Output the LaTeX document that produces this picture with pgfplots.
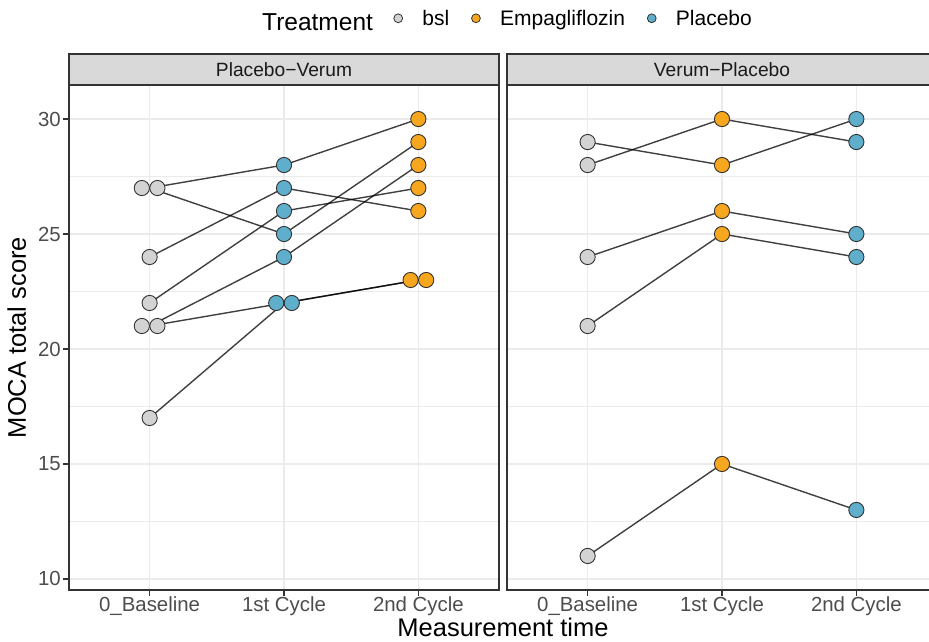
\documentclass[border=0pt]{standalone}
\usepackage{pgfplots}
\pgfplotsset{compat=1.18}
\usepackage{fontspec}
\setmainfont{Liberation Sans}

\definecolor{bslfill}{HTML}{D3D3D3}
\definecolor{empafill}{HTML}{F7A71E}
\definecolor{plcfill}{HTML}{5FAECB}
\definecolor{grey10}{HTML}{1A1A1A}
\definecolor{grey20}{HTML}{333333}
\definecolor{grey30}{HTML}{4D4D4D}
\definecolor{grey85}{HTML}{D9D9D9}
\definecolor{grey92}{HTML}{EBEBEB}

\newcommand\titlefont{\fontsize{25.5}{30}\selectfont}
\newcommand\tickfont{\fontsize{20.4}{24}\selectfont}
\newcommand\stripfont{\fontsize{19.2}{23}\selectfont}
\newcommand\legfont{\fontsize{21}{25}\selectfont}
\newcommand\legtitlefont{\fontsize{24.5}{29}\selectfont}

\pgfplotsset{
  every axis title shift=0pt,
  facet/.style={
    scale only axis, width=430pt, height=505pt,
    anchor=south west,
    xmin=0.4, xmax=3.6, ymin=9.52, ymax=31.48,
    xtick={1,2,3},
    xticklabels={0\_Baseline,1st Cycle,2nd Cycle},
    ytick={10,15,20,25,30},
    yticklabels={10,15,20,25,30},
    minor ytick={12.5,17.5,22.5,27.5},
    grid=both,
    major grid style={grey92, line width=1.1pt},
    minor grid style={grey92, line width=0.55pt},
    axis line style={grey20, line width=1.1pt},
    tick align=outside,
    xtick pos=left, ytick pos=left,
    major tick length=5.5pt, minor tick length=0pt,
    tick style={grey20, line width=1.1pt},
    xticklabel style={font=\tickfont, text=grey30, anchor=base, inner sep=0pt, yshift=-15.8pt},
    yticklabel style={font=\tickfont, text=grey30, anchor=east, inner sep=0pt, xshift=-2.5pt},
    title style={at={(axis description cs:0.5,1)}, anchor=south, fill=grey85, draw=grey20,
      line width=1.1pt, minimum width=430pt, minimum height=31pt, inner sep=0pt, outer sep=0pt,
      font=\stripfont, text=grey10},
    clip=false,
  },
  subject/.style={black, opacity=0.75, line width=1.4pt, forget plot},
  dot/.style={only marks, mark=*, mark size=7.6pt,
    mark options={draw=grey20, line width=0.9pt, fill=#1}, forget plot},
}

\begin{document}
\begin{tikzpicture}

% ---------------- Placebo-Verum sequence ----------------
\begin{axis}[facet, at={(69pt,51pt)},
  title={Placebo\textminus Verum},
  ylabel={MOCA total score},
  ylabel style={font=\titlefont, at={(axis description cs:-0.1,0.5)}, anchor=base},
  xlabel={Measurement time},
  xlabel style={font=\titlefont, at={(axis description cs:1.0093,-0.0915)}, anchor=base},
  legend style={at={(axis description cs:0.7035,1.1321)}, anchor=west, draw=none, fill=none,
    inner sep=0pt, outer sep=0pt, font=\legfont, /tikz/column sep=0pt,
    nodes={inner sep=0pt, text depth=0pt, text height=15.2pt}},
  legend columns=-1,
  legend cell align=left,
  legend image code/.code={\path (-26.5pt,0pt) (24pt,0pt);
    \draw[#1, line width=0.8pt] (0pt,0pt) circle (4.4pt);},
]
\addlegendimage{fill=bslfill, draw=grey20}
\addlegendentry{bsl}
\addlegendimage{fill=empafill, draw=grey20}
\addlegendentry{Empagliflozin}
\addlegendimage{fill=plcfill, draw=grey20}
\addlegendentry{Placebo}

% baseline scores (tied values dodged sideways)
\addplot[dot=bslfill] coordinates {(0.942,27) (1.058,27) (1,24) (1,22) (0.942,21) (1.058,21) (1,17)};
% first cycle: placebo
\addplot[dot=plcfill] coordinates {(2,28) (2,27) (2,26) (2,25) (2,24) (1.942,22) (2.058,22)};
% second cycle: empagliflozin
\addplot[dot=empafill] coordinates {(3,30) (3,29) (3,28) (3,27) (3,26) (2.942,23) (3.058,23)};

% one line per patient
\addplot[subject] coordinates {(1,27) (2,28) (3,30)};
\addplot[subject] coordinates {(1,27) (2,25) (3,29)};
\addplot[subject] coordinates {(1,24) (2,27) (3,26)};
\addplot[subject] coordinates {(1,22) (2,26) (3,27)};
\addplot[subject] coordinates {(1,21) (2,24) (3,28)};
\addplot[subject] coordinates {(1,21) (2,22) (3,23)};
\addplot[subject] coordinates {(1,17) (2,22) (3,23)};
\end{axis}

% ---------------- Verum-Placebo sequence ----------------
\begin{axis}[facet, at={(507pt,51pt)},
  title={Verum\textminus Placebo},
  yticklabels={}, ytick style={draw=none},
]
\addplot[dot=bslfill] coordinates {(1,29) (1,28) (1,24) (1,21) (1,11)};
\addplot[dot=empafill] coordinates {(2,30) (2,28) (2,26) (2,25) (2,15)};
\addplot[dot=plcfill] coordinates {(3,30) (3,29) (3,25) (3,24) (3,13)};

\addplot[subject] coordinates {(1,29) (2,28) (3,30)};
\addplot[subject] coordinates {(1,28) (2,30) (3,29)};
\addplot[subject] coordinates {(1,24) (2,26) (3,25)};
\addplot[subject] coordinates {(1,21) (2,25) (3,24)};
\addplot[subject] coordinates {(1,11) (2,15) (3,13)};
\end{axis}

% legend heading
\node[anchor=base west, inner sep=0pt] at (262pt,610pt) {\legtitlefont Treatment};

\pgfresetboundingbox
\path[use as bounding box] (0pt,0pt) rectangle (929pt,641pt);
\end{tikzpicture}
\end{document}
